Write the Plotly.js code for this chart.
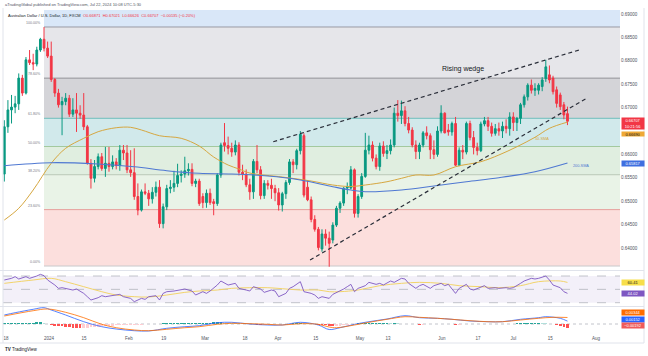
<!DOCTYPE html>
<html><head><meta charset="utf-8">
<script src="https://cdn.plot.ly/plotly-3.0.1.min.js"></script>
<style>html,body{margin:0;padding:0;background:#fff}#chart{width:648px;height:356px}</style>
</head><body><div id="chart"></div>
<script>
// ---------------- DATA ----------------
const opens=[.6558,.6659,.6695,.6701,.6708,.6763,.6731,.6802,.6796,.6793,.6823,.6846,.6827,.6810,.6760,.6731,.6706,.6713,.6720,.6686,
.6695,.6688,.6684,.6659,.6581,.6549,.6574,.6595,.6570,.6581,.6574,.6584,.6576,.6609,.6603,.6567,.6561,.6510,.6481,.6520,
.6517,.6505,.6519,.6530,.6452,.6488,.6527,.6530,.6538,.6555,.6558,.6565,.6568,.6538,.6543,.6510,.6497,.6517,.6499,.6495,
.6556,.6625,.6619,.6613,.6605,.6620,.6562,.6558,.6535,.6520,.6585,.6567,.6512,.6538,.6534,.6527,.6518,.6492,.6516,.6540,
.6584,.6578,.6608,.6640,.6530,.6503,.6461,.6440,.6398,.6430,.6421,.6417,.6449,.6485,.6496,.6528,.6528,.6567,.6474,.6510,
.6553,.6609,.6620,.6592,.6574,.6618,.6602,.6608,.6620,.6688,.6683,.6693,.6666,.6652,.6620,.6606,.6620,.6646,.6640,.6610,
.6600,.6650,.6688,.6652,.6648,.6666,.6577,.6609,.6605,.6666,.6636,.6615,.6608,.6665,.6672,.6660,.6645,.6655,.6650,.6660,
.6655,.6680,.6668,.6677,.6706,.6723,.6748,.6737,.6737,.6745,.6762,.6770,.6763,.6738,.6727,.6706,.66871];
const highs=[.6673,.6716,.6727,.6725,.6773,.6770,.6808,.6823,.6815,.6830,.6849,.6872,.6841,.6841,.6763,.6740,.6723,.6731,.6727,.6720,
.6731,.6705,.6731,.6663,.6590,.6588,.6602,.6603,.6616,.6616,.6598,.6592,.6620,.6620,.6620,.6609,.6613,.6538,.6525,.6538,
.6524,.6530,.6542,.6545,.6495,.6535,.6545,.6565,.6580,.6566,.6595,.6581,.6581,.6548,.6548,.6517,.6525,.6527,.6505,.6560,
.6625,.6667,.6638,.6625,.6630,.6626,.6578,.6568,.6548,.6590,.6620,.6575,.6545,.6545,.6548,.6535,.6528,.6520,.6545,.6590,
.6590,.6612,.6650,.6645,.6545,.6510,.6470,.6445,.6440,.6440,.6435,.6455,.6490,.6500,.6530,.6540,.6575,.6570,.6515,.6560,
.6646,.6640,.6628,.6600,.6625,.6628,.6620,.6632,.6700,.6716,.6715,.6703,.6680,.6658,.6630,.6625,.6650,.6660,.6645,.6630,
.6660,.6705,.6690,.6665,.6670,.6680,.6615,.6620,.6670,.6672,.6650,.6625,.6670,.6680,.6680,.6668,.6665,.6668,.6670,.6675,
.6690,.6690,.6680,.6710,.6728,.6752,.6760,.6752,.6752,.6765,.6802,.6790,.6768,.6745,.6732,.6712,.67021];
const lows=[.6542,.6646,.6666,.6688,.6695,.6725,.6728,.6791,.6780,.6788,.6819,.6820,.6806,.6755,.6723,.6700,.6641,.6705,.6680,.6680,
.6648,.6676,.6652,.6578,.6527,.6540,.6568,.6565,.6552,.6563,.6568,.6568,.6565,.6588,.6560,.6552,.6503,.6470,.6478,.6513,
.6490,.6495,.6510,.6443,.6442,.6481,.6517,.6520,.6530,.6540,.6550,.6555,.6532,.6530,.6490,.6485,.6486,.6492,.6470,.6490,
.6550,.6606,.6600,.6595,.6598,.6555,.6545,.6530,.6503,.6505,.6560,.6504,.6505,.6525,.6505,.6500,.6480,.6478,.6505,.6535,
.6560,.6568,.6600,.6508,.6500,.6455,.6435,.6395,.6392,.6405,.6360,.6410,.6445,.6475,.6490,.6515,.6525,.6465,.6465,.6505,
.6550,.6600,.6585,.6568,.6565,.6595,.6590,.6600,.6615,.6670,.6665,.6660,.6645,.6615,.6590,.6590,.6615,.6632,.6590,.6590,
.6595,.6645,.6645,.6640,.6640,.6575,.6575,.6590,.6600,.6630,.6600,.6598,.6605,.6660,.6650,.6638,.6640,.6640,.6635,.6645,
.6640,.6650,.6650,.6665,.6700,.6715,.6730,.6725,.6728,.6735,.6755,.6752,.6728,.6700,.6695,.6675,.66626];
const closes=[.6659,.6695,.6701,.6708,.6763,.6731,.6802,.6796,.6793,.6823,.6846,.6827,.6810,.6760,.6731,.6706,.6713,.6720,.6686,.6695,
.6688,.6684,.6659,.6581,.6549,.6574,.6595,.6570,.6581,.6574,.6584,.6576,.6609,.6603,.6567,.6561,.6510,.6481,.6520,.6517,
.6505,.6519,.6530,.6452,.6488,.6527,.6530,.6538,.6555,.6558,.6565,.6568,.6538,.6543,.6495,.6497,.6517,.6497,.6495,.6556,
.6620,.6619,.6613,.6605,.6620,.6562,.6558,.6535,.6520,.6585,.6567,.6512,.6538,.6534,.6527,.6518,.6492,.6516,.6540,.6584,
.6578,.6608,.6643,.6513,.6503,.6461,.6440,.6401,.6430,.6421,.6410,.6449,.6485,.6496,.6528,.6531,.6567,.6474,.6510,.6553,
.6609,.6620,.6592,.6574,.6618,.6602,.6608,.6620,.6688,.6683,.6693,.6666,.6652,.6620,.6606,.6620,.6646,.6640,.6610,.6600,
.6650,.6688,.6646,.6648,.6666,.6577,.6609,.6605,.6666,.6636,.6615,.6608,.6665,.6672,.6660,.6645,.6655,.6650,.6660,.6655,
.6680,.6668,.6677,.6706,.6723,.6748,.6737,.6741,.6748,.6759,.6787,.6759,.6734,.6709,.6702,.66842,.66707];

const sma50Bar=[0,4,8,13,17,22,26,31,35,38,43,49,54,58,62,65,68,77,85,91,96,100,106,110,114,119,125,132,137,142,147,151,156];
const sma50=[0.64598,0.64848,0.65239,0.65810,0.66130,0.66344,0.66485,0.66570,0.66579,0.66521,0.66399,0.66344,0.66179,0.65944,0.65773,0.65688,0.65602,0.65517,0.65431,0.65346,0.65314,0.65346,0.65416,0.65489,0.65560,0.65560,0.65737,0.65844,0.65987,0.66164,0.66365,0.66557,0.66690];
const sma200Bar=[0,13,26,36,45,54,63,73,82,91,96,100,110,119,128,137,147,156];
const sma200=[0.65759,0.65823,0.65795,0.65737,0.65652,0.65596,0.65581,0.65538,0.65453,0.65310,0.65239,0.65203,0.65239,0.65324,0.65416,0.65502,0.65630,0.65817];

const rsiBar=[0,2,3,4,6,7,9,10,11,12,14,15,16,18,19,20,22,23,24,26,27,28,30,32,33,35,36,38,39,40,42,43,44,45,47,49,50,52,53,55,56,57,59,60,61,62,64,65,67,68,69,71,72,74,75,76,78,79,80,81,82,83,85,86,87,88,89,90,91,93,94,95,96,97,98,100,101,103,104,105,107,108,110,111,112,114,115,116,118,119,121,122,123,125,126,128,129,130,132,133,134,136,137,139,140,141,143,144,146,147,148,150,151,152,154,155,156];
const rsi=[64,66.5,69,65.5,69,66.5,70,72.5,70.5,64,56.5,51.5,52.5,50.5,49,50.5,44,39,34,37.5,40.5,39,40.5,42.5,39,36.5,31.5,36.5,35,39,40.5,34,44,46.5,47.5,49,50.5,47.5,41.5,46.5,44,47.5,56.5,62.5,59,56.5,59,51.5,49,47.5,54,50.5,45.5,49,47.5,39,44,51.5,54,57.5,61.5,46.5,44,41.5,36.5,39,38,36.5,42.5,47.5,50.5,54,57.5,46.5,51.5,55.5,60.5,57.5,59,56.5,62.5,60.5,66.5,65.5,59,51.5,55.5,57.5,51.5,55.5,59,55.5,57.5,44,51.5,57.5,50.5,49,54,55.5,51.5,52.5,51.5,52.5,51.5,52.5,59,62.5,66.5,65.5,66.5,70,64,56.5,52.5,46.5,44.02];
const rsiMaBar=[0,8,13,17,22,27,31,36,40,45,50,54,59,63,68,73,77,82,87,90,93,98,104,110,115,121,126,132,137,143,148,154,156];
const rsiMa=[59,64,66.5,61.5,54,46.5,41.5,39,38.5,41.5,45.5,47.5,49,51.5,52.5,52.5,51,49,49,46.5,46.5,49,55.5,59,60.5,59,55.5,54,52.5,55.5,61.5,62.5,60.41];

const macdBar=[0,3,8,11,13,17,22,27,31,36,40,45,50,54,59,63,68,73,77,82,87,90,93,97,101,106,111,115,120,124,129,134,138,143,148,150,154,156];
const macd=[0.00474,0.00595,0.00774,0.00858,0.00737,0.00474,0.00121,-0.00142,-0.00263,-0.00353,-0.00368,-0.00226,-0.00142,-0.00089,0.00068,0.00089,0,-0.00053,-0.00053,0.00089,-0.00053,-0.0029,-0.00195,-0.00016,0.00121,0.00263,0.00437,0.00332,0.003,0.00247,0.00158,0.00121,0.00121,0.00247,0.00332,0.00384,0.003,0.00152];
const signalBar=[0,8,12,17,22,27,31,36,40,45,50,54,59,63,68,73,77,82,87,90,92,97,101,106,111,115,120,124,129,134,138,143,148,152,156];
const signal=[0.00421,0.007,0.00789,0.00616,0.00332,-0.00016,-0.00195,-0.00316,-0.00353,-0.00279,-0.00195,-0.00142,-0.00016,0.00037,0.00016,-0.00016,-0.00053,0.00016,-0.00016,-0.0016,-0.00195,-0.00053,0.00089,0.00247,0.00384,0.00353,0.003,0.00247,0.00174,0.00121,0.00121,0.00211,0.003,0.00353,0.00344];
const hist=[0.0005,0.0005,0.0006,0.0006,0.0006,0.0007,0.0007,0.0007,0.0007,0.0008,0.0008,0.0007,
-0.0002,-0.0005,-0.0008,-0.0011,-0.0013,-0.0015,-0.0017,-0.0019,-0.002,-0.0021,-0.0021,-0.002,-0.0018,
-0.0016,-0.0015,-0.0013,-0.0011,-0.0009,-0.0008,-0.0007,-0.0006,-0.0005,-0.0005,-0.0004,-0.0004,-0.0003,
-0.0003,-0.0002,-0.0002,-0.0001,0.0001,0.0002,0.0003,
0.0004,0.0005,0.0005,0.0005,0.0005,0.0005,0.0005,0.0005,0.0005,0.0005,0.0006,0.0006,
0.0007,0.0008,0.0008,0.0008,0.0007,0.0006,0.0005,0.0004,0.0003,0.0002,
0,-0.0001,-0.0002,-0.0003,-0.0004,-0.0004,-0.0004,-0.0003,-0.0002,-0.0001,0,0.0001,0.0002,
0.0004,0.0006,0.0007,0.0006,0.0004,0.0002,-0.0001,
-0.0003,-0.0005,-0.0007,-0.0009,-0.001,-0.0009,-0.0008,
-0.0006,-0.0004,-0.0002,0.0001,0.0003,0.0003,
0.0004,0.0005,0.0005,0.0005,0.0005,0.0005,0.0005,0.0004,0.0004,0.0003,0.0002,0.0001,0,
-0.0001,-0.0002,-0.0003,-0.0003,-0.0002,-0.0002,-0.0001,-0.0001,-0.0001,-0.0002,-0.0002,-0.0002,-0.0003,-0.0003,-0.0002,-0.0002,
-0.0001,-0.0001,-0.0001,0,0,0,0,0,0,0,0.0001,0.0001,0.0002,
0.0003,0.0004,0.0004,0.0005,0.0005,0.0005,0.0005,0.0004,0.0003,0.0001,-0.0001,-0.0005,
-0.0009,-0.0014,-0.00192];

const tickBars=[0.5,12.4,22.1,34.5,44.2,55.6,66.7,75.8,86.3,98.5,106.3,121.2,131.2,141,151.2,163.9];
const tickText=['18','2024','15','Feb','19','Mar','18','Apr','15','May','13','Jun','17','Jul','15','Aug'];
// 0.66500 is hidden behind the last-price labels in the reference
const priceTicks=[0.64,0.645,0.65,0.655,0.66,0.67,0.675,0.68,0.685,0.69];

const fibHigh=0.68722, fibLow=0.63615, fibStartBar=11;
const fibRatios=[1,0.786,0.618,0.5,0.382,0.236,0];
const fibLabels=['100.00%','78.60%','61.80%','50.00%','38.20%','23.60%','0.00%'];
const wedgeUpperBar=[74.5,159.9], wedgeUpperPrice=[0.66271,0.68246];
const wedgeLowerBar=[84.7,161.3], wedgeLowerPrice=[0.63743,0.67199];

// ---------------- STYLE / LAYOUT ----------------
const W=648,H=356;
const px=x=>x/W, py=y=>1-y/H;
const FONT='"Liberation Sans", Arial, sans-serif';
const UP='#089981', DN='#f23645';
const XR=[-0.36,170.55];
const idx=closes.map((_,i)=>i);
const last=closes.length-1;

const bandColors=['#d9e7f8','#e6e6ea','#d4d4d8','#d1e9eb','#e0eee0','#e9f3e7','#fcdfdd'];
const lineColors=['#9b9ba3','#8f8f96','#6dbdbb','#a3c99e','#b9c8b6','#e4a09b','#c9c9cc'];
const fibPrice=r=>fibLow+r*(fibHigh-fibLow);

const shapes=[];
shapes.push({type:'rect',xref:'x',yref:'y',x0:fibStartBar,x1:XR[1],y0:fibPrice(1),y1:fibPrice(1.618),fillcolor:bandColors[0],line:{width:0},layer:'below'});
for(let i=1;i<fibRatios.length;i++){
  shapes.push({type:'rect',xref:'x',yref:'y',x0:fibStartBar,x1:XR[1],y0:fibPrice(fibRatios[i]),y1:fibPrice(fibRatios[i-1]),fillcolor:bandColors[i],line:{width:0},layer:'below'});
}
fibRatios.forEach((r,i)=>shapes.push({type:'line',xref:'x',yref:'y',x0:fibStartBar,x1:XR[1],y0:fibPrice(r),y1:fibPrice(r),line:{color:lineColors[i],width:1},layer:'below'}));
shapes.push({type:'rect',xref:'x domain',yref:'y2',x0:0,x1:1,y0:30,y1:70,fillcolor:'rgba(126,87,194,0.09)',line:{width:0},layer:'below'});
[70,50,30].forEach(v=>shapes.push({type:'line',xref:'x domain',yref:'y2',x0:0,x1:1,y0:v,y1:v,line:{color:'#b2b5be',width:0.8,dash:'dash'},layer:'below'}));
shapes.push({type:'line',xref:'x domain',yref:'y3',x0:0,x1:1,y0:0,y1:0,line:{color:'#b2b5be',width:0.8,dash:'dot'},layer:'below'});
[270.5,306.5].forEach(y=>shapes.push({type:'line',xref:'paper',yref:'paper',x0:0,x1:px(644),y0:py(y),y1:py(y),line:{color:'#e0e3eb',width:1}}));
shapes.push({type:'line',xref:'paper',yref:'paper',x0:0,x1:px(644),y0:py(343),y1:py(343),line:{color:'#e0e3eb',width:1}});
shapes.push({type:'line',xref:'paper',yref:'paper',x0:px(644),x1:px(644),y0:py(8),y1:py(343),line:{color:'#e0e3eb',width:1}});
shapes.push({type:'line',xref:'paper',yref:'paper',x0:px(3),x1:px(3),y0:py(8),y1:py(343),line:{color:'#e0e3eb',width:1}});

const traces=[];
traces.push({type:'candlestick',x:idx,open:opens,high:highs,low:lows,close:closes,xaxis:'x',yaxis:'y',
  increasing:{line:{color:UP,width:1},fillcolor:UP},decreasing:{line:{color:DN,width:1},fillcolor:DN},whiskerwidth:0,hoverinfo:'skip'});
traces.push({type:'scatter',mode:'lines',x:sma50Bar,y:sma50,xaxis:'x',yaxis:'y',line:{color:'#d6a740',width:1,shape:'spline'},hoverinfo:'skip'});
traces.push({type:'scatter',mode:'lines',x:sma200Bar,y:sma200,xaxis:'x',yaxis:'y',line:{color:'#4f78d2',width:1.1,shape:'spline'},hoverinfo:'skip'});
traces.push({type:'scatter',mode:'lines',x:wedgeUpperBar,y:wedgeUpperPrice,xaxis:'x',yaxis:'y',line:{color:'#2a2e39',width:1.2,dash:'4px,3px'},hoverinfo:'skip'});
traces.push({type:'scatter',mode:'lines',x:wedgeLowerBar,y:wedgeLowerPrice,xaxis:'x',yaxis:'y',line:{color:'#2a2e39',width:1.2,dash:'4px,3px'},hoverinfo:'skip'});
traces.push({type:'scatter',mode:'lines',x:rsiMaBar,y:rsiMa,xaxis:'x',yaxis:'y2',line:{color:'#f2d46b',width:1,shape:'spline'},hoverinfo:'skip'});
traces.push({type:'scatter',mode:'lines',x:rsiBar,y:rsi,xaxis:'x',yaxis:'y2',line:{color:'#7e57c2',width:0.9},hoverinfo:'skip'});
const histColors=hist.map((v,i)=>{const p=i>0?hist[i-1]:v; return v>=0?(v>=p?'#26a69a':'#b2dfdb'):(v<p?'#ff5252':'#ffcdd2');});
traces.push({type:'bar',x:idx,y:hist,xaxis:'x',yaxis:'y3',marker:{color:histColors,line:{width:0}},width:0.75,hoverinfo:'skip'});
traces.push({type:'scatter',mode:'lines',x:macdBar,y:macd,xaxis:'x',yaxis:'y3',line:{color:'#2962ff',width:0.8,shape:'spline'},hoverinfo:'skip'});
traces.push({type:'scatter',mode:'lines',x:signalBar,y:signal,xaxis:'x',yaxis:'y3',line:{color:'#ff6d00',width:0.8,shape:'spline'},hoverinfo:'skip'});

const ann=[];
const t=(text,x,y,o={})=>ann.push(Object.assign({text,x:px(x),y:py(y),xref:'paper',yref:'paper',showarrow:false,xanchor:'left',yanchor:'middle',font:{family:FONT,size:4,color:'#50535e'}},o));
t('aTradingGlobal published on TradingView.com, Jul 22, 2024 10:08 UTC-5:30',3,5,{font:{family:FONT,size:4,color:'#50535e'}});
const chg=closes[last]-closes[last-1];
const f5=v=>v.toFixed(5), sgn=v=>(v<0?'\u2212':'')+Math.abs(v).toFixed(5);
t('Australian Dollar / U.S. Dollar, 1D, FXCM  <span style="color:#f23645">O'+f5(opens[last])+'  H'+f5(highs[last])+'  L'+f5(lows[last])+'  C'+f5(closes[last])+'  '+sgn(chg)+' ('+(chg<0?'\u2212':'')+Math.abs(chg/closes[last-1]*100).toFixed(2)+'%)</span>',6,15,{font:{family:FONT,size:4,color:'#131722'}});
fibRatios.forEach((r,i)=>ann.push({text:fibLabels[i],x:fibStartBar,y:fibPrice(r),xref:'x',yref:'y',xanchor:'right',yanchor:'bottom',xshift:-1,yshift:0,showarrow:false,font:{family:FONT,size:3.6,color:'#787b86'}}));
ann.push({text:'Rising wedge',x:127.1,y:0.67825,xref:'x',yref:'y',showarrow:false,xanchor:'center',yanchor:'middle',font:{family:FONT,size:7,color:'#131722'}});
ann.push({text:'50-SMA',x:146.5,y:0.66322,xref:'x',yref:'y',showarrow:false,xanchor:'left',yanchor:'middle',font:{family:FONT,size:3.8,color:'#d6a740'}});
ann.push({text:'200-SMA',x:sma200Bar[sma200Bar.length-1]+1,y:0.65752,xref:'x',yref:'y',showarrow:false,xanchor:'left',yanchor:'middle',font:{family:FONT,size:3.8,color:'#4f78d2'}});
const box=(text,y,h,bg,fc)=>ann.push({text,x:px(621),y:py(y),xref:'paper',yref:'paper',xanchor:'left',yanchor:'middle',showarrow:false,width:22,height:h,bgcolor:bg,borderpad:0,font:{family:FONT,size:4,color:fc}});
box(f5(closes[last])+'<br>10:21:56',124,11,'#f23645','#ffffff');
box(f5(sma50[sma50.length-1]),134.2,4.4,'#efa935','#131722');
box(f5(sma200[sma200.length-1]),163.3,4.8,'#3f6fe0','#ffffff');
box(rsiMa[rsiMa.length-1].toFixed(2),282.8,4.6,'#f7df4a','#131722');
box(rsi[rsi.length-1].toFixed(2),293.3,4.8,'#7e57c2','#ffffff');
box(f5(signal[signal.length-1]),312.5,4.6,'#ff6d00','#ffffff');
box(f5(macd[macd.length-1]),319,4.6,'#2962ff','#ffffff');
box(sgn(hist[hist.length-1]),325,4.6,'#f05a5a','#ffffff');
t('<b>TV</b> TradingView',3,349,{font:{family:FONT,size:4.5,color:'#131722'}});

const layout={
  width:W,height:H,margin:{l:0,r:0,t:0,b:0},paper_bgcolor:'#fff',plot_bgcolor:'rgba(0,0,0,0)',showlegend:false,
  bargap:0,
  xaxis:{domain:[px(3),px(620)],range:XR,anchor:'y3',tickmode:'array',tickvals:tickBars,ticktext:tickText,
    tickfont:{family:FONT,size:4.5,color:'#50535e'},ticks:'',showgrid:false,zeroline:false,showline:false,rangeslider:{visible:false},fixedrange:true},
  yaxis:{domain:[py(268),py(10)],range:[0.63573,0.69085],side:'right',anchor:'x',tickmode:'array',tickvals:priceTicks,tickformat:'.5f',
    tickfont:{family:FONT,size:4.5,color:'#50535e'},ticks:'',showgrid:false,zeroline:false,showline:false,fixedrange:true},
  yaxis2:{domain:[py(306),py(272)],range:[25.06,76],side:'right',anchor:'x',showticklabels:false,ticks:'',showgrid:false,zeroline:false,fixedrange:true},
  yaxis3:{domain:[py(334),py(307)],range:[-0.00526,0.00895],side:'right',anchor:'x',showticklabels:false,ticks:'',showgrid:false,zeroline:false,fixedrange:true},
  shapes,annotations:ann
};
Plotly.newPlot('chart',traces,layout,{staticPlot:true,displayModeBar:false});
</script></body></html>
